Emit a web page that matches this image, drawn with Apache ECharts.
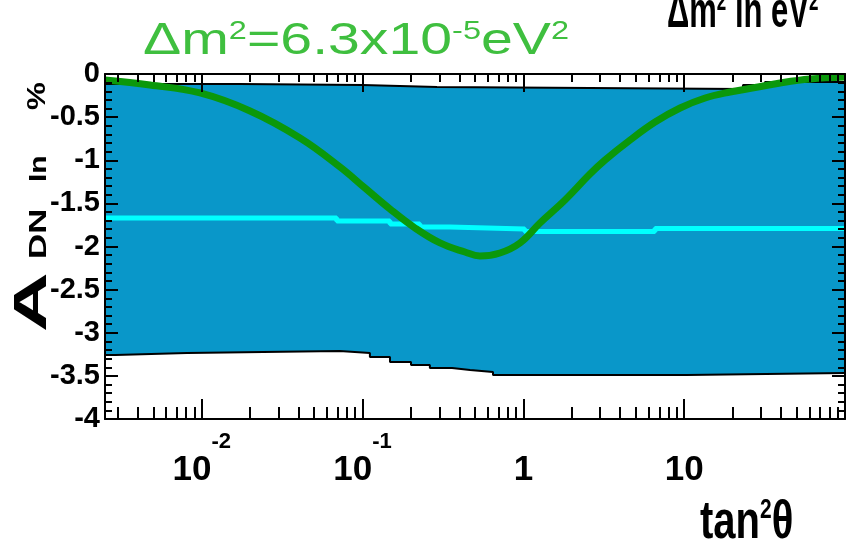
<!DOCTYPE html>
<html>
<head>
<meta charset="utf-8">
<script src="https://cdn.jsdelivr.net/npm/echarts@6/dist/echarts.min.js"></script>
<style>
  html, body { margin: 0; padding: 0; background: #ffffff; }
  #chart { width: 846px; height: 541px; }
</style>
</head>
<body>
<div id="chart"></div>
<script>
// Expected day-night asymmetry A_DN (%) versus tan^2(theta), dm^2 = 6.3e-5 eV^2
const curveTan2 = [0.0025, 0.00476, 0.00975, 0.01995, 0.0408, 0.0724, 0.1035, 0.148, 0.212, 0.303,
                   0.433, 0.537, 0.715, 0.952, 1.268, 1.814, 2.594, 3.22, 4.61, 6.59,
                   9.43, 13.5, 19.3, 27.6, 39.5, 60.7, 100];
const curveAdn = [-0.07, -0.128, -0.220, -0.429, -0.742, -1.078, -1.322, -1.565, -1.786, -1.959,
                  -2.064, -2.110, -2.075, -1.959, -1.728, -1.461, -1.160, -0.997, -0.765, -0.557,
                  -0.394, -0.278, -0.209, -0.157, -0.104, -0.058, -0.035];

// SK measurement: central value and +-1 sigma band (step edges)
const centralTan2 = [0.0025, 0.069, 0.148, 0.227, 0.349, 1.02, 6.58, 100];
const centralAdn = [-1.670, -1.704, -1.739, -1.774, -1.797, -1.826, -1.791, -1.791];

const upperTan2 = [0.0025, 0.0173, 0.1, 0.29, 23.2, 31.8, 100];
const upperAdn = [-0.116, -0.128, -0.151, -0.174, -0.128, -0.093, -0.093];

const lowerTan2 = [0.0025, 0.0029, 0.0081, 0.072, 0.111, 0.148, 0.2, 0.262, 0.36, 0.466, 0.647, 10.4, 100];
const lowerAdn = [-3.258, -3.235, -3.212, -3.235, -3.281, -3.339, -3.374, -3.409, -3.432, -3.455, -3.490, -3.467, -3.467];

// Axis ticks
const xMajorTicks = [0.01, 0.1, 1, 10];
const xTickBase = ['10', '10', '1', '10'];
const xTickExp = ['-2', '-1', '', ''];
const xMin = 0.0025, xMax = 100;
const yMin = -4, yMax = 0, yStep = 0.5;

const xMinorTicks = [];
for (let k = -3; k <= 1; k++) {
  for (let m = 2; m <= 9; m++) {
    const v = +(m * Math.pow(10, k)).toPrecision(3);
    if (v > xMin && v < xMax) xMinorTicks.push(v);
  }
}

const pairs = (xs, ys) => xs.map((x, i) => [x, ys[i]]);

const SANS = "'Liberation Sans', Arial, sans-serif";
const BLUE = '#0997c9';

function xAxisDef(position, ticks, len, withLine, withLabels) {
  return {
    type: 'log', logBase: 10, position: position, min: xMin, max: xMax, z: 10,
    axisLine: { show: withLine, onZero: false, lineStyle: { color: '#000', width: 2 } },
    axisTick: { show: true, inside: true, length: len, customValues: ticks,
                lineStyle: { color: '#000', width: 2 } },
    axisLabel: withLabels ? {
      show: true, margin: 12, customValues: xMajorTicks,
      formatter: function (v) {
        const i = xMajorTicks.findIndex(t => Math.abs(t - v) / t < 1e-6);
        if (i < 0) return '';
        return '{m|' + xTickBase[i] + '}' + (xTickExp[i] ? '{s|' + xTickExp[i] + '}' : '');
      },
      rich: {
        m: { fontFamily: SANS, fontWeight: 'bold', fontSize: 35, color: '#000',
             padding: [22, 0, 0, 0], verticalAlign: 'bottom' },
        s: { fontFamily: SANS, fontWeight: 'bold', fontSize: 22, color: '#000',
             verticalAlign: 'top' }
      }
    } : { show: false },
    splitLine: { show: false },
    minorTick: { show: false },
    minorSplitLine: { show: false }
  };
}

function yAxisDef(position, withLabels) {
  return {
    type: 'value', position: position, min: yMin, max: yMax, interval: yStep, z: 10,
    axisLine: { show: true, onZero: false, lineStyle: { color: '#000', width: 2 } },
    axisTick: { show: true, inside: true, length: 13, lineStyle: { color: '#000', width: 2 } },
    minorTick: { show: true, splitNumber: 5, length: 7, lineStyle: { color: '#000', width: 2 } },
    axisLabel: withLabels ? {
      show: true, margin: 5, fontFamily: SANS, fontWeight: 'bold', fontSize: 29, color: '#000',
      showMinLabel: true, showMaxLabel: true
    } : { show: false },
    splitLine: { show: false }
  };
}

const chart = echarts.init(document.getElementById('chart'), null, { renderer: 'canvas' });

chart.setOption({
  animation: false,
  backgroundColor: '#ffffff',
  grid: { left: 105, right: 1, top: 74, bottom: 122, containLabel: false },
  xAxis: [
    xAxisDef('bottom', xMajorTicks, 20, true, true),
    xAxisDef('bottom', xMinorTicks, 12, false, false),
    xAxisDef('top', xMajorTicks, 18, true, false),
    xAxisDef('top', xMinorTicks, 8, false, false)
  ],
  yAxis: [yAxisDef('left', true), yAxisDef('right', false)],
  series: [
    {
      name: 'upper', type: 'line', step: 'end', symbol: 'none', z: 2,
      xAxisIndex: 0, yAxisIndex: 0,
      data: pairs(upperTan2, upperAdn),
      lineStyle: { color: '#000', width: 2 },
      areaStyle: { color: BLUE, opacity: 1, origin: 'start' }
    },
    {
      name: 'lower', type: 'line', step: 'end', symbol: 'none', z: 3,
      xAxisIndex: 0, yAxisIndex: 0,
      data: pairs(lowerTan2, lowerAdn),
      lineStyle: { color: '#000', width: 2 },
      areaStyle: { color: '#ffffff', opacity: 1, origin: 'start' }
    },
    {
      name: 'SK central', type: 'line', step: 'end', symbol: 'none', z: 4,
      xAxisIndex: 0, yAxisIndex: 0,
      data: pairs(centralTan2, centralAdn),
      lineStyle: { color: '#00ffff', width: 5 }
    },
    {
      name: 'expected', type: 'line', smooth: 0.4, symbol: 'none', z: 5,
      xAxisIndex: 0, yAxisIndex: 0,
      data: pairs(curveTan2, curveAdn),
      lineStyle: { color: '#0b980b', width: 7 }
    }
  ],
  graphic: [
    {
      type: 'text', x: 143, y: 20, scaleX: 1.3, silent: true,
      style: {
        text: '{m|\u0394m}{s|2}{m|=6.3x10}{s|-5}{m|eV}{s|2}',
        align: 'left', verticalAlign: 'top',
        rich: {
          m: { fontFamily: SANS, fontSize: 44, fill: '#3fbf3f' },
          s: { fontFamily: SANS, fontSize: 25, fill: '#3fbf3f', verticalAlign: 'top' }
        }
      }
    },
    {
      type: 'text', x: 667, y: 38, scaleY: 1.6, silent: true,
      style: {
        text: '{m|\u0394m}{s|2}{m| in eV}{s|2}',
        align: 'left', verticalAlign: 'bottom',
        rich: {
          m: { fontFamily: SANS, fontWeight: 'bold', fontSize: 31, fill: '#000' },
          s: { fontFamily: SANS, fontWeight: 'bold', fontSize: 17, fill: '#000', verticalAlign: 'top' }
        }
      }
    },
    {
      type: 'text', x: 132, y: 321, scaleX: 1.2, silent: true,
      style: { text: 'SK data(\u00b11\u03c3)', fontFamily: SANS, fontWeight: 'bold', fontSize: 39,
               fill: '#e8f8ff', align: 'left', verticalAlign: 'bottom' }
    },
    {
      type: 'text', x: 56, y: 332, rotation: Math.PI / 2, scaleX: 1.8, silent: true,
      style: { text: 'A', fontFamily: SANS, fontWeight: 'bold', fontSize: 46, fill: '#000',
               align: 'left', verticalAlign: 'bottom' }
    },
    {
      type: 'text', x: 51, y: 259, rotation: Math.PI / 2, scaleX: 1.45, silent: true,
      style: { text: 'DN', fontFamily: SANS, fontWeight: 'bold', fontSize: 24, fill: '#000',
               align: 'left', verticalAlign: 'bottom' }
    },
    {
      type: 'text', x: 51, y: 182, rotation: Math.PI / 2, scaleX: 1.25, silent: true,
      style: { text: 'In', fontFamily: SANS, fontWeight: 'bold', fontSize: 24, fill: '#000',
               align: 'left', verticalAlign: 'bottom' }
    },
    {
      type: 'text', x: 51, y: 110, rotation: Math.PI / 2, scaleX: 1.2, silent: true,
      style: { text: '%', fontFamily: SANS, fontWeight: 'bold', fontSize: 26, fill: '#000',
               align: 'left', verticalAlign: 'bottom' }
    },
    {
      type: 'text', x: 700, y: 550, scaleY: 1.35, silent: true,
      style: {
        text: '{m|tan}{s|2}{m|\u03b8}',
        align: 'left', verticalAlign: 'bottom',
        rich: {
          m: { fontFamily: SANS, fontWeight: 'bold', fontSize: 40, fill: '#000' },
          s: { fontFamily: SANS, fontWeight: 'bold', fontSize: 21, fill: '#000', verticalAlign: 'top' }
        }
      }
    }
  ]
});
</script>
</body>
</html>
